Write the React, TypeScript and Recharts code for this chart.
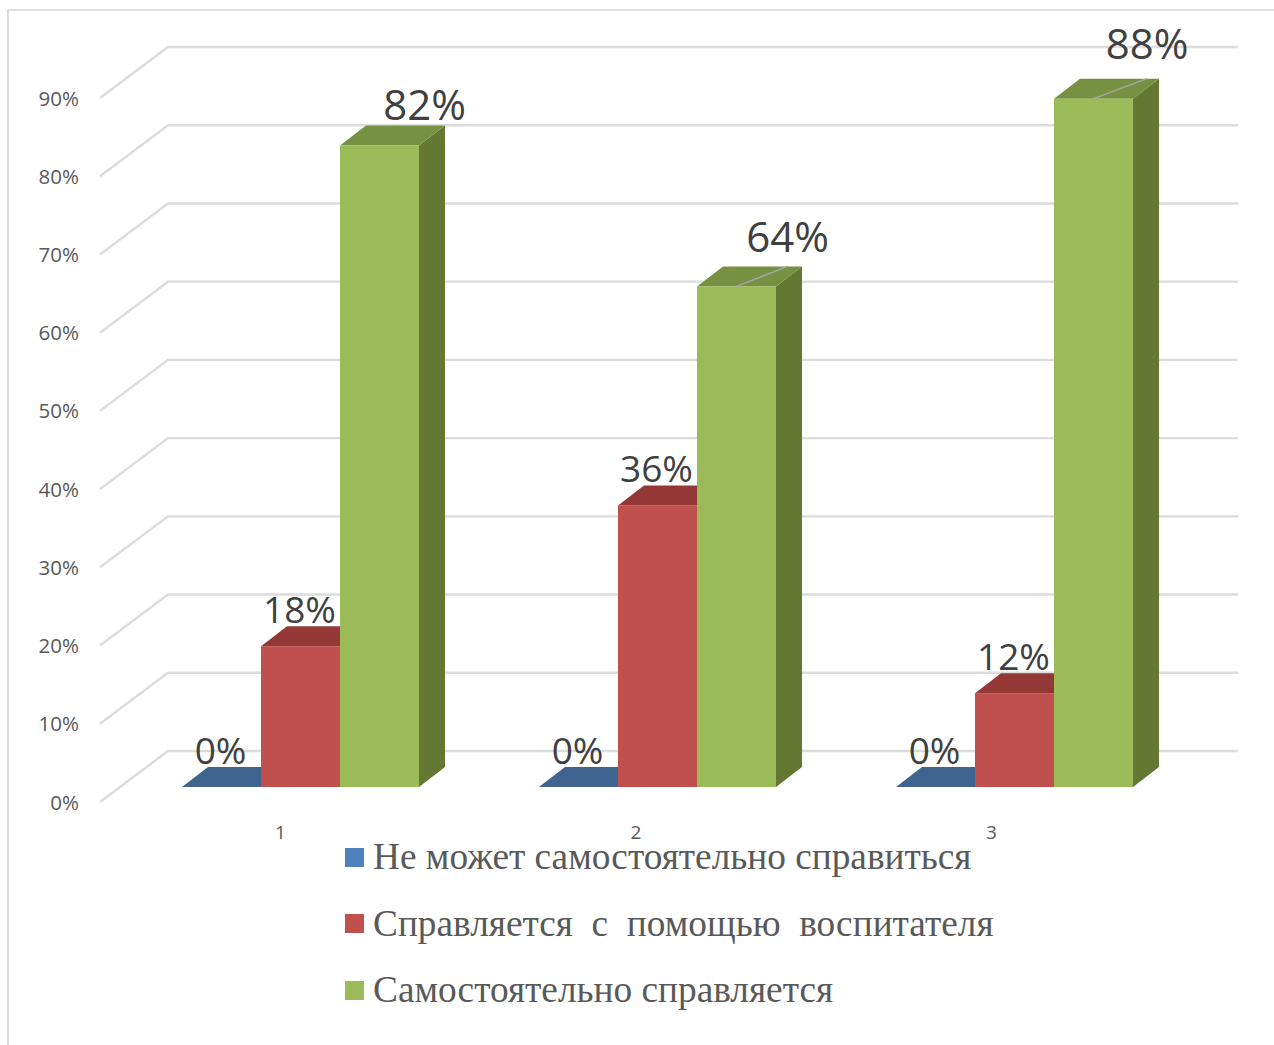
import React from "react";
import { BarChart, Bar, XAxis, YAxis, Legend, LabelList, CartesianGrid } from "recharts";

const categories = ["1", "2", "3"];
const seriesNames = [
  "Не может самостоятельно справиться",
  "Справляется  с  помощью  воспитателя",
  "Самостоятельно справляется",
];
const cannotValues = [0, 0, 0];
const helpedValues = [18, 36, 12];
const aloneValues = [82, 64, 88];
const yTicks = [0, 10, 20, 30, 40, 50, 60, 70, 80, 90];

const data = categories.map((cat, i) => ({
  cat,
  cannot: cannotValues[i],
  helped: helpedValues[i],
  alone: aloneValues[i],
}));

const DEPTH_X = 26;
const DEPTH_Y = 20;
const GRID = "#dcdcdc";
const TEXT = "#595959";
const LABEL = "#404040";
const FONT = "'Open Sans', sans-serif";

const faces = {
  cannot: { front: "#4F81BD", top: "#3E648F", side: "#345478" },
  helped: { front: "#C0504D", top: "#943837", side: "#772C2A" },
  alone: { front: "#9BBB59", top: "#779142", side: "#647733" },
};

// manually dragged labels of the green series, relative to the bar top centre
const aloneLabelShift = [
  { dx: 45, dy: -42, leader: false },
  { dx: 51, dy: -51, leader: true },
  { dx: 53.5, dy: -56, leader: true },
];

const Box3D = (colors: { front: string; top: string; side: string }) => (props: any) => {
  const { x, y, width, height } = props;
  const r = x + width;
  const b = y + height;
  return (
    <g>
      <polygon points={`${r},${y} ${r + DEPTH_X},${y - DEPTH_Y} ${r + DEPTH_X},${b - DEPTH_Y} ${r},${b}`} fill={colors.side} />
      <polygon points={`${x},${y} ${x + DEPTH_X},${y - DEPTH_Y} ${r + DEPTH_X},${y - DEPTH_Y} ${r},${y}`} fill={colors.top} />
      <rect x={x} y={y} width={width} height={height} fill={colors.front} />
    </g>
  );
};

const GridLine = (props: any) => {
  const { y1 } = props;
  return (
    <polyline
      key={`grid-${y1}`}
      points={`100,${y1 + 15} 168,${y1 - 36} 1238,${y1 - 36}`}
      fill="none"
      stroke={GRID}
      strokeWidth={2.4}
    />
  );
};

const YTick = (props: any) => {
  const { y, payload } = props;
  return (
    <text x={79} y={y + 14.5} textAnchor="end" dominantBaseline="central" fontSize={20.5} fontFamily={FONT} fill={TEXT}>
      {`${payload.value}%`}
    </text>
  );
};

const XTick = (props: any) => {
  const { x, payload, index } = props;
  return (
    <text x={x - 20 - index * 1.5} y={832} textAnchor="middle" dominantBaseline="central" fontSize={19} fontFamily={FONT} fill={TEXT}>
      {payload.value}
    </text>
  );
};

const plainLabel = (props: any) => {
  const { x, y, width, value } = props;
  return (
    <text x={x + width / 2 - 1} y={y - 38} textAnchor="middle" dominantBaseline="central" fontSize={37} fontFamily={FONT} fill={LABEL}>
      {`${value}%`}
    </text>
  );
};

const aloneLabel = (props: any) => {
  const { x, y, width, value, index } = props;
  const cx = x + width / 2;
  const s = aloneLabelShift[index];
  return (
    <g>
      {s.leader && (
        <line x1={cx} y1={y} x2={cx + s.dx} y2={y - 20} stroke="#a6a6a6" strokeWidth={1.5} />
      )}
      <text x={cx + s.dx} y={y + s.dy} textAnchor="middle" dominantBaseline="central" fontSize={42} fontFamily={FONT} fill={LABEL}>
        {`${value}%`}
      </text>
    </g>
  );
};

const legendColors = [faces.cannot.front, faces.helped.front, faces.alone.front];

const LegendBody = () => (
  <div>
    {seriesNames.map((name, i) => (
      <div key={name} style={{ height: 66.5, display: "flex", alignItems: "center" }}>
        <span style={{ width: 19, height: 19, background: legendColors[i], marginRight: 9, flex: "none" }} />
        <span
          style={{
            fontFamily: "'Liberation Serif', serif",
            fontSize: 37.3,
            color: TEXT,
            whiteSpace: "pre",
            lineHeight: "40px",
          }}
        >
          {name}
        </span>
      </div>
    ))}
  </div>
);

export default function App() {
  return (
    <div style={{ position: "absolute", left: 0, top: 0, width: 1274, height: 1045, background: "#fff", overflow: "hidden" }}>
      <div
        style={{
          position: "absolute",
          left: 7,
          top: 9,
          width: 1300,
          height: 1100,
          borderLeft: `2px solid ${GRID}`,
          borderTop: `2px solid ${GRID}`,
        }}
      />
      <div style={{ position: "absolute", left: 0, top: 0 }}>
        <BarChart
          width={1274}
          height={1045}
          data={data}
          barSize={79}
          barGap={0}
          margin={{ top: 83, right: 81, bottom: 198, left: 0 }}
        >
          <CartesianGrid vertical={false} horizontal={GridLine} stroke={GRID} syncWithTicks />
          <YAxis
            type="number"
            domain={[0, 90]}
            ticks={yTicks}
            width={122}
            axisLine={false}
            tickLine={false}
            interval={0}
            tick={YTick}
          />
          <XAxis dataKey="cat" height={60} axisLine={false} tickLine={false} tick={XTick} />
          <Bar dataKey="cannot" name={seriesNames[0]} fill={faces.cannot.front} shape={Box3D(faces.cannot)} isAnimationActive={false}>
            <LabelList dataKey="cannot" content={plainLabel} />
          </Bar>
          <Bar dataKey="helped" name={seriesNames[1]} fill={faces.helped.front} shape={Box3D(faces.helped)} isAnimationActive={false}>
            <LabelList dataKey="helped" content={plainLabel} />
          </Bar>
          <Bar dataKey="alone" name={seriesNames[2]} fill={faces.alone.front} shape={Box3D(faces.alone)} isAnimationActive={false}>
            <LabelList dataKey="alone" content={aloneLabel} />
          </Bar>
          <Legend
            layout="vertical"
            align="center"
            verticalAlign="middle"
            content={LegendBody}
            wrapperStyle={{ left: 345, top: 824, width: 760 }}
          />
        </BarChart>
      </div>
    </div>
  );
}
